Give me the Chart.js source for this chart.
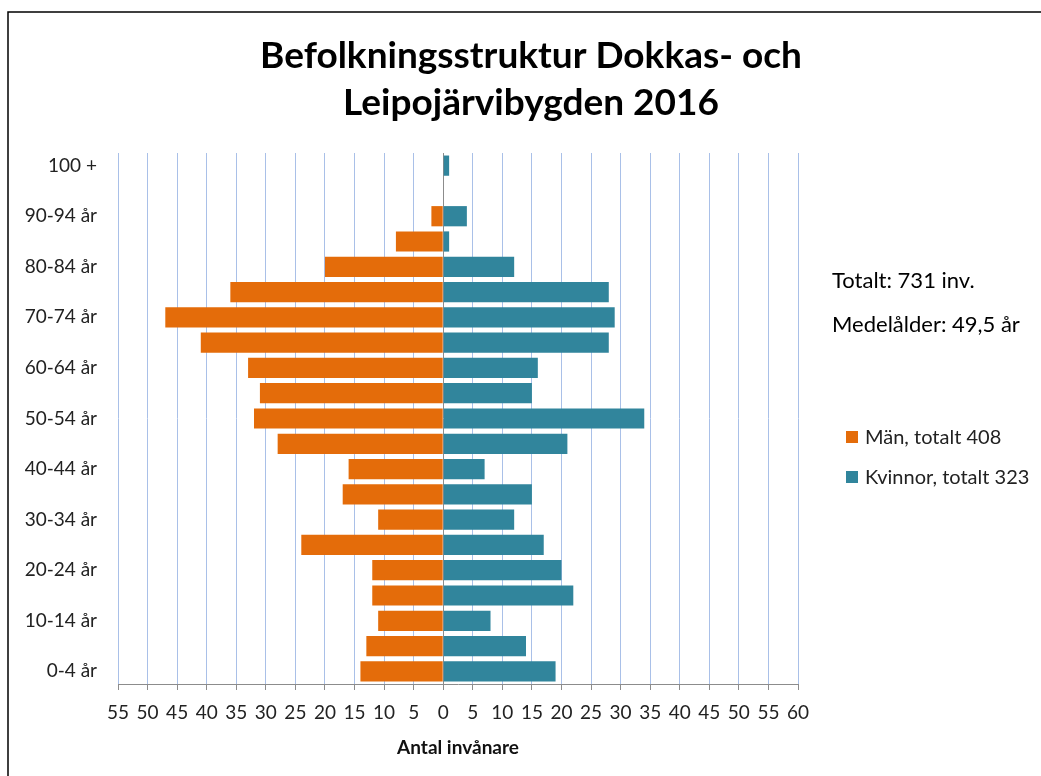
<!DOCTYPE html>
<html>
<head>
<meta charset="utf-8">
<script src="https://cdn.jsdelivr.net/npm/chart.js@4.4.0/dist/chart.umd.min.js"></script>
<style>
  html, body { margin: 0; padding: 0; background: #fff; }
  #wrap { position: relative; width: 1041px; height: 776px; }
</style>
</head>
<body>
<div id="wrap"><canvas id="pyramid" width="1041" height="776"></canvas></div>
<script>
// Åldersgrupper nerifrån och upp
const ageGroups = ['0-4 år', '5-9 år', '10-14 år', '15-19 år', '20-24 år', '25-29 år', '30-34 år',
  '35-39 år', '40-44 år', '45-49 år', '50-54 år', '55-59 år', '60-64 år', '65-69 år',
  '70-74 år', '75-79 år', '80-84 år', '85-89 år', '90-94 år', '95-99 år', '100 +'];
const men   = [14, 13, 11, 12, 12, 24, 11, 17, 16, 28, 32, 31, 33, 41, 47, 36, 20, 8, 2, 0, 0];
const women = [19, 14, 8, 22, 20, 17, 12, 15, 7, 21, 34, 15, 16, 28, 29, 28, 12, 1, 4, 0, 1];
const xTicks = [-55, 60, 5]; // min, max, steg
const chartTitle = ['Befolkningsstruktur Dokkas- och', 'Leipojärvibygden 2016'];
const notes = ['Totalt: 731 inv.', 'Medelålder: 49,5 år'];
const seriesNames = ['Män, totalt 408', 'Kvinnor, totalt 323'];

const FONT = 'Lato, "Open Sans", sans-serif';

// titel, kommentarer, legend och ram ritas själv
const overlay = {
  id: 'overlay',
  afterDraw(chart) {
    const ctx = chart.ctx;
    ctx.save();
    // ram
    ctx.strokeStyle = '#000';
    ctx.lineWidth = 1.5;
    ctx.beginPath();
    ctx.moveTo(8, 776);
    ctx.lineTo(8, 12);
    ctx.lineTo(1041, 12);
    ctx.stroke();

    ctx.fillStyle = '#000';
    ctx.textAlign = 'center';
    ctx.textBaseline = 'middle';
    ctx.font = 'bold 37px ' + FONT;
    ctx.fillText(chartTitle[0], 531, 56);
    ctx.fillText(chartTitle[1], 531, 103);

    ctx.textAlign = 'left';
    ctx.font = '22px ' + FONT;
    ctx.fillText(notes[0], 832, 281);
    ctx.fillText(notes[1], 832, 325);

    ctx.font = '20px ' + FONT;
    chart.data.datasets.forEach((ds, i) => {
      const y = 437 + i * 40;
      ctx.fillStyle = ds.backgroundColor;
      ctx.fillRect(846, y - 6, 12, 12);
      ctx.fillStyle = '#222';
      ctx.fillText(ds.label, 865, y + 1);
    });
    ctx.restore();
  }
};

new Chart(document.getElementById('pyramid'), {
  type: 'bar',
  data: {
    labels: ageGroups,
    datasets: [
      { label: seriesNames[0], data: men.map(v => -v), backgroundColor: '#e46c0a' },
      { label: seriesNames[1], data: women, backgroundColor: '#31859c' }
    ]
  },
  options: {
    indexAxis: 'y',
    responsive: false,
    animation: false,
    layout: { padding: { left: 0, right: 243, top: 153, bottom: 0 } },
    datasets: { bar: { barPercentage: 0.8, categoryPercentage: 1.0 } },
    scales: {
      x: {
        stacked: true,
        min: xTicks[0],
        max: xTicks[1],
        afterFit: s => { s.height = 92; },
        ticks: {
          stepSize: xTicks[2],
          color: '#222',
          font: { family: FONT, size: 19 },
          padding: 11,
          callback: v => Math.abs(v)
        },
        grid: {
          color: c => (c.tick && c.tick.value === 0) ? '#8c8c8c' : '#a9c0e8',
          lineWidth: 1,
          tickLength: 6,
          tickColor: '#8c8c8c'
        },
        border: { display: true, color: '#8c8c8c' },
        title: {
          display: true,
          text: 'Antal invånare',
          color: '#111',
          font: { family: FONT, size: 19, weight: 'bold' },
          padding: { top: 8, bottom: 17 }
        }
      },
      y: {
        stacked: true,
        reverse: true,
        afterFit: s => { s.width = 118; },
        ticks: {
          autoSkip: false,
          color: '#222',
          padding: 21,
          font: { family: FONT, size: 19 },
          callback: function (v, i) { return i % 2 === 0 ? this.getLabelForValue(v) : ''; }
        },
        grid: { display: false, drawTicks: false },
        border: { display: false }
      }
    },
    plugins: {
      legend: { display: false },
      title: { display: false },
      tooltip: { enabled: false }
    }
  },
  plugins: [overlay]
});
</script>
</body>
</html>
